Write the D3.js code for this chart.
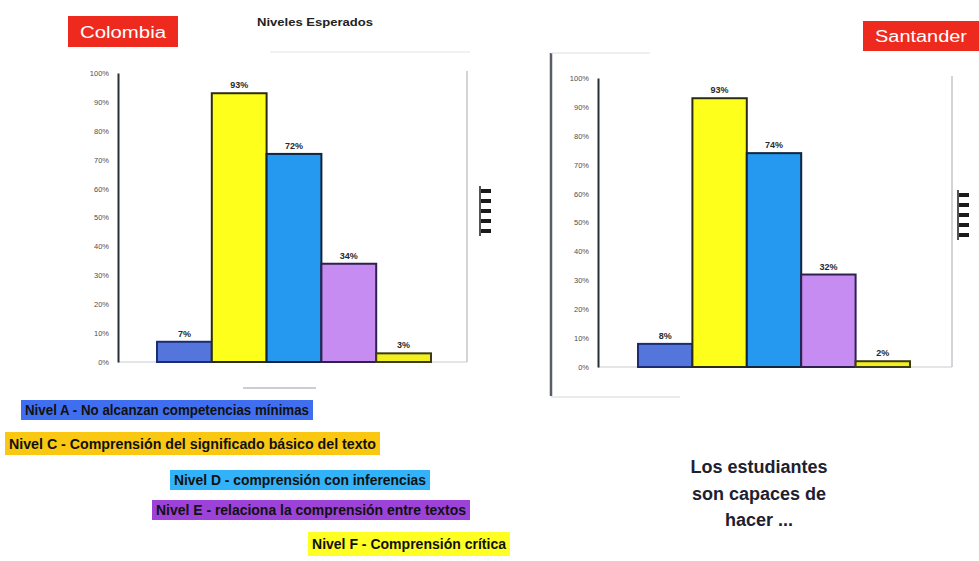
<!DOCTYPE html>
<html>
<head>
<meta charset="utf-8">
<script src="https://cdn.jsdelivr.net/npm/d3@7/dist/d3.min.js"></script>
<style>
  html, body { margin: 0; padding: 0; background: #ffffff; }
  svg { display: block; }
</style>
</head>
<body>
<svg id="chart" width="979" height="561"></svg>
<script>
// Reading levels and percentage of students reaching each one
const levels = ["A", "C", "D", "E", "F"];
const colombiaValues = [7, 93, 72, 34, 3];
const santanderValues = [8, 93, 74, 32, 2];
const tickValues = [0, 10, 20, 30, 40, 50, 60, 70, 80, 90, 100];
const tickLabels = ["0%", "10%", "20%", "30%", "40%", "50%", "60%", "70%", "80%", "90%", "100%"];
const legendLabels = [
  "Nivel A - No alcanzan competencias mínimas",
  "Nivel C - Comprensión del significado básico del texto",
  "Nivel D - comprensión con inferencias",
  "Nivel E - relaciona la comprensión entre textos",
  "Nivel F - Comprensión crítica"
];
const regionNames = ["Colombia", "Santander"];
const chartTitle = "Niveles Esperados";
const noteLines = ["Los estudiantes", "son capaces de", "hacer ..."];

const barFill = { A: "#5375dc", C: "#ffff1c", D: "#2598ef", E: "#c78cf2", F: "#f2ef22" };
const barStroke = { A: "#1b2c72", C: "#2c2c12", D: "#12243f", E: "#2e2150", F: "#3c3c10" };
const legendFill = ["#3f6ff0", "#fac812", "#32b2f8", "#9c42d8", "#ffff24"];

const svg = d3.select("#chart");

function drawPanel(cfg, values) {
  const g = svg.append("g");
  const y = d3.scaleLinear().domain([0, 100]).range([cfg.bottom, cfg.top]);
  const x = d3.scaleBand().domain(levels).range([cfg.barLeft, cfg.barRight]).padding(0);

  // faint frame pieces around the plot
  g.append("line").attr("x1", cfg.axisX).attr("x2", cfg.rightX)
    .attr("y1", cfg.bottom).attr("y2", cfg.bottom)
    .attr("stroke", "#c8ccd2").attr("stroke-width", 1);
  g.append("line").attr("x1", cfg.rightX).attr("x2", cfg.rightX)
    .attr("y1", cfg.top - 2).attr("y2", cfg.bottom)
    .attr("stroke", "#c4c6ca").attr("stroke-width", 1.5);

  // y axis
  const axis = d3.axisLeft(y).tickValues(tickValues)
    .tickFormat((d, i) => tickLabels[i]).tickSize(0).tickPadding(9);
  const ag = g.append("g").attr("transform", `translate(${cfg.axisX},0)`).call(axis);
  ag.select(".domain").attr("stroke", "#2a2e36").attr("stroke-width", 2);
  ag.selectAll("text").attr("font-family", "Liberation Sans, Arial, sans-serif")
    .attr("font-size", 7.5).attr("fill", "#4a4f58");

  // bars
  g.selectAll("rect.bar").data(values).join("rect").attr("class", "bar")
    .attr("x", (d, i) => x(levels[i]))
    .attr("y", d => y(d))
    .attr("width", x.bandwidth())
    .attr("height", d => cfg.bottom - y(d))
    .attr("fill", (d, i) => barFill[levels[i]])
    .attr("stroke", (d, i) => barStroke[levels[i]])
    .attr("stroke-width", 2);

  // value labels
  g.selectAll("text.val").data(values).join("text").attr("class", "val")
    .attr("x", (d, i) => x(levels[i]) + x.bandwidth() / 2)
    .attr("y", d => y(d) - 5)
    .attr("text-anchor", "middle")
    .attr("font-family", "Liberation Sans, Arial, sans-serif")
    .attr("font-size", 9).attr("font-weight", "bold").attr("fill", "#2a2a2a")
    .text(d => d + "%");

  // small stacked legend keys at the right
  const keys = g.append("g").attr("transform", `translate(${cfg.keyX},${cfg.keyY})`);
  keys.append("line").attr("x1", 0).attr("x2", 0).attr("y1", 0).attr("y2", 50)
    .attr("stroke", "#1a1a1a").attr("stroke-width", 1.5);
  keys.selectAll("rect").data(levels).join("rect")
    .attr("x", 1).attr("y", (d, i) => 3 + i * 10)
    .attr("width", 10).attr("height", 4).attr("fill", "#1a1a1a");

  // region badge
  svg.append("rect").attr("x", cfg.badge[0]).attr("y", cfg.badge[1])
    .attr("width", cfg.badge[2]).attr("height", cfg.badge[3]).attr("fill", "#ee2a1f");
  svg.append("text").attr("x", cfg.badge[0] + cfg.badge[2] / 2)
    .attr("y", cfg.badge[1] + cfg.badge[3] / 2 + 6)
    .attr("text-anchor", "middle")
    .attr("font-family", "Liberation Sans, Arial, sans-serif")
    .attr("font-size", 16).attr("fill", "#ffffff")
    .attr("textLength", cfg.badge[2] - 24).attr("lengthAdjust", "spacingAndGlyphs")
    .text(cfg.name);
}

drawPanel({
  name: regionNames[0], top: 73, bottom: 362, axisX: 118, rightX: 467,
  barLeft: 157, barRight: 431, keyX: 480, keyY: 186, badge: [68, 16, 110, 31]
}, colombiaValues);

drawPanel({
  name: regionNames[1], top: 78, bottom: 367, axisX: 598, rightX: 952,
  barLeft: 638, barRight: 910, keyX: 958, keyY: 190, badge: [863, 21, 116, 30]
}, santanderValues);

// decorative frame pieces
svg.append("line").attr("x1", 270).attr("x2", 470).attr("y1", 52).attr("y2", 52)
  .attr("stroke", "#e2e4e8").attr("stroke-width", 1);
svg.append("line").attr("x1", 243).attr("x2", 316).attr("y1", 388).attr("y2", 388)
  .attr("stroke", "#b8bcc4").attr("stroke-width", 1.5);
svg.append("line").attr("x1", 551).attr("x2", 551).attr("y1", 53).attr("y2", 396)
  .attr("stroke", "#5a5e64").attr("stroke-width", 2.5);
svg.append("line").attr("x1", 551).attr("x2", 650).attr("y1", 53).attr("y2", 53)
  .attr("stroke", "#dcdee2").attr("stroke-width", 1);
svg.append("line").attr("x1", 551).attr("x2", 680).attr("y1", 397).attr("y2", 397)
  .attr("stroke", "#d4d6da").attr("stroke-width", 1);

// chart title
svg.append("text").attr("x", 257).attr("y", 26)
  .attr("font-family", "Liberation Sans, Arial, sans-serif")
  .attr("font-size", 10).attr("font-weight", "bold").attr("fill", "#222")
  .attr("textLength", 116).attr("lengthAdjust", "spacingAndGlyphs")
  .text(chartTitle);

// level legend with highlighted labels
const legendBoxes = [
  [21, 400, 292, 20],
  [5, 432, 375, 23],
  [170, 470, 260, 20],
  [152, 500, 318, 20],
  [308, 532, 202, 24]
];
const lg = svg.append("g");
legendLabels.forEach((label, i) => {
  const b = legendBoxes[i];
  lg.append("rect").attr("x", b[0]).attr("y", b[1]).attr("width", b[2]).attr("height", b[3])
    .attr("fill", legendFill[i]);
  lg.append("text").attr("x", b[0] + 4).attr("y", b[1] + b[3] / 2 + 5)
    .attr("font-family", "Liberation Sans, Arial, sans-serif")
    .attr("font-size", 14).attr("font-weight", "bold").attr("fill", "#111")
    .attr("textLength", b[2] - 8).attr("lengthAdjust", "spacingAndGlyphs")
    .text(label);
});

// side note
svg.append("g").selectAll("text").data(noteLines).join("text")
  .attr("x", 759).attr("y", (d, i) => 473 + i * 26.5)
  .attr("text-anchor", "middle")
  .attr("font-family", "Liberation Sans, Arial, sans-serif")
  .attr("font-size", 18).attr("font-weight", "bold").attr("fill", "#1c2130")
  .text(d => d);
</script>
</body>
</html>
